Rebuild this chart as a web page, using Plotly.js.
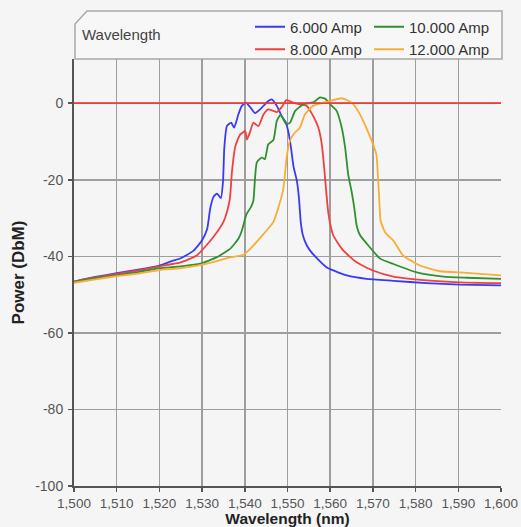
<!DOCTYPE html>
<html>
<head>
<meta charset="utf-8">
<script src="https://cdn.plot.ly/plotly-3.0.1.min.js"></script>
<style>
  html, body { margin: 0; padding: 0; background: #f5f5f5; }
  #chart { width: 521px; height: 527px; }
</style>
</head>
<body>
<div id="chart"></div>
<script>
// ---- data ----
const seriesNames = ["6.000 Amp", "8.000 Amp", "10.000 Amp", "12.000 Amp"];

const wl6 = [1500, 1505, 1510, 1515, 1520, 1523, 1525, 1528, 1530, 1531.2, 1531.9, 1532.7, 1533.5, 1534.4, 1534.9, 1535.2, 1535.8, 1536.8, 1537.5, 1538.5, 1539.3, 1540.3, 1541.3, 1542.4, 1543.6, 1545.1, 1546.3, 1547.5, 1548.6, 1549.6, 1550.3, 1550.8, 1551.4, 1552.2, 1552.7, 1553.1, 1553.6, 1554.5, 1555.3, 1556.8, 1559.2, 1561, 1563.9, 1568.5, 1574.8, 1582.6, 1590.4, 1600];
const pw6 = [-46.6, -45.4, -44.4, -43.5, -42.4, -41.2, -40.5, -38.5, -35.8, -32.8, -27.5, -24.4, -23.6, -24.8, -20.4, -11.7, -6.0, -5.1, -6.4, -2.9, -0.7, 0.1, -1.1, -2.6, -1.6, 0.2, 1.0, -0.7, -3.3, -5.0, -8.0, -11.5, -16.5, -20.3, -25.0, -31.0, -34.5, -37.1, -38.5, -40.4, -42.9, -43.8, -45.0, -45.9, -46.4, -47.0, -47.4, -47.6];

const wl8 = [1500, 1505, 1510, 1515, 1520, 1525, 1528.8, 1532.6, 1535, 1535.8, 1536.5, 1537, 1537.8, 1538.9, 1540.1, 1540.5, 1541.3, 1542, 1543.2, 1544.4, 1545.5, 1547.5, 1548.6, 1549.7, 1551, 1552.9, 1554.5, 1556, 1557.2, 1558, 1558.6, 1559.1, 1559.6, 1560.7, 1563, 1566.1, 1570, 1574.8, 1582.6, 1590.4, 1600];
const pw8 = [-46.6, -45.5, -44.6, -43.7, -42.6, -41.6, -39.7, -35.0, -31.0, -28.5, -25.0, -17.8, -11.2, -8.2, -7.3, -9.5, -7.3, -5.1, -6.0, -2.9, -1.6, -2.3, -1.1, 0.8, 0.3, -0.3, -0.7, -3.3, -6.3, -10.5, -17.0, -23.5, -29.0, -34.5, -38.4, -41.5, -43.7, -45.3, -46.3, -46.8, -47.0];

const wl10 = [1500, 1505, 1510, 1515, 1520, 1525, 1529.6, 1533.5, 1536.6, 1538.5, 1539.3, 1540.4, 1541.5, 1542, 1542.4, 1542.8, 1543.9, 1544.7, 1545.5, 1546.7, 1547.5, 1548.4, 1549.7, 1550.6, 1551.8, 1553.7, 1556, 1557.6, 1558.8, 1560, 1561.5, 1562.7, 1563.5, 1564.2, 1565, 1565.6, 1566.2, 1567, 1568.5, 1571.7, 1574.8, 1580.3, 1586.5, 1592, 1600];
const pw10 = [-46.7, -45.7, -44.9, -44.1, -43.1, -42.6, -41.9, -40.2, -38.0, -35.4, -33.3, -29.0, -27.0, -25.5, -19.5, -15.5, -14.2, -14.6, -10.7, -9.6, -4.6, -3.0, -5.5, -5.1, -2.0, -0.3, 0.2, 1.5, 1.2, -0.3, -2.0, -6.4, -11.6, -18.5, -23.0, -27.0, -32.0, -34.5, -36.6, -40.6, -42.0, -44.2, -45.3, -45.6, -45.9];

const wl12 = [1500, 1505, 1510, 1515, 1520, 1525, 1531.2, 1536.6, 1539.7, 1541.5, 1543.6, 1546.7, 1548.2, 1549, 1549.8, 1550.5, 1551.4, 1552.9, 1554.1, 1556, 1560, 1562.7, 1565, 1566.5, 1568.1, 1569.7, 1570.8, 1571.2, 1571.5, 1571.8, 1573, 1574.8, 1577.1, 1581, 1585.7, 1591.9, 1600];
const pw12 = [-46.9, -46.0, -45.2, -44.5, -43.6, -43.1, -41.9, -40.3, -39.6, -37.8, -35.2, -31.0, -26.0, -22.5, -14.2, -10.0, -8.1, -6.4, -2.9, -0.7, 0.6, 1.3, 0.2, -2.0, -5.5, -9.8, -13.3, -19.4, -25.5, -30.7, -34.0, -35.9, -39.8, -42.4, -43.9, -44.3, -45.0];

const referenceDbm = 0;          // red horizontal reference line
const xRange = [1500, 1600];
const yRange = [-100, 11.55];
const yTickValues = [-100, -80, -60, -40, -20, 0];
const yTickLabels = ["-100", "-80", "-60", "-40", "-20", "0"];

// ---- styling ----
const colors = ["#3a3af5", "#f04040", "#2f912f", "#f7ad36"];
const wls = [wl6, wl8, wl10, wl12];
const pws = [pw6, pw8, pw10, pw12];
const legendOf = ["legend", "legend", "legend2", "legend2"];

const traces = seriesNames.map((name, i) => ({
  type: "scatter",
  mode: "lines",
  name: name,
  x: wls[i],
  y: pws[i],
  line: { color: colors[i], width: 1.8, shape: "spline", smoothing: 0.5 },
  legend: legendOf[i],
  hoverinfo: "x+y+name"
}));

const W = 521, H = 527;
const mL = 74, mR = 20, mT = 58, mB = 41;
const pw = W - mL - mR, ph = H - mT - mB;
const px2paper = (px) => (px - mL) / pw;
const py2paper = (py) => (H - mB - py) / ph;

const fam = "Arial, 'Liberation Sans', sans-serif";
const legendFont = { family: fam, size: 15, color: "#333" };

const layout = {
  width: W, height: H,
  margin: { l: mL, r: mR, t: mT, b: mB, pad: 0 },
  paper_bgcolor: "#f5f5f5",
  plot_bgcolor: "#f5f5f5",
  font: { family: fam, size: 14, color: "#555" },
  showlegend: true,
  xaxis: {
    range: xRange,
    dtick: 10, tick0: 1500,
    tickformat: ",",
    showgrid: true, gridcolor: "#9e9e9e", gridwidth: 1.5,
    zeroline: false,
    showline: true, linecolor: "#555", linewidth: 2,
    ticks: "outside", ticklen: 4, tickcolor: "#555", tickwidth: 1.5,
    tickfont: { size: 13.5, color: "#555" },
    title: { text: "Wavelength (nm)", font: { size: 15.5, color: "#222", family: fam, weight: "bold" }, standoff: 4 },
    fixedrange: true
  },
  yaxis: {
    range: yRange,
    tickmode: "array", tickvals: yTickValues, ticktext: yTickLabels,
    showgrid: true, gridcolor: "#9e9e9e", gridwidth: 1.5,
    zeroline: false,
    showline: true, linecolor: "#555", linewidth: 2,
    ticks: "outside", ticklen: 4, tickcolor: "#555", tickwidth: 1.5,
    ticklabelstandoff: 2,
    tickfont: { size: 14, color: "#555" },
    title: { text: "Power (DbM)", font: { size: 17, color: "#222", family: fam, weight: "bold" }, standoff: 6 },
    fixedrange: true
  },
  legend: {
    x: px2paper(250), xanchor: "left",
    y: py2paper(10.5), yanchor: "top",
    orientation: "v",
    bgcolor: "rgba(0,0,0,0)", borderwidth: 0,
    font: legendFont, itemwidth: 30, tracegroupgap: 0
  },
  legend2: {
    x: px2paper(369), xanchor: "left",
    y: py2paper(10.5), yanchor: "top",
    orientation: "v",
    bgcolor: "rgba(0,0,0,0)", borderwidth: 0,
    font: legendFont, itemwidth: 30, tracegroupgap: 0
  },
  shapes: [
    {
      type: "path", xref: "paper", yref: "paper",
      path: "M " + px2paper(75) + "," + py2paper(58) +
            " L " + px2paper(75) + "," + py2paper(23) +
            " L " + px2paper(87) + "," + py2paper(10) +
            " L " + px2paper(502) + "," + py2paper(10) +
            " L " + px2paper(502) + "," + py2paper(58) + " Z",
      line: { color: "#a8a8a8", width: 1.5 },
      fillcolor: "#f7f7f7",
      layer: "below"
    },
    {
      type: "line", xref: "paper", yref: "y",
      x0: 0, x1: 1, y0: referenceDbm, y1: referenceDbm,
      line: { color: "#ff3535", width: 1.5 },
      layer: "above"
    }
  ],
  annotations: [
    {
      text: "Wavelength", xref: "paper", yref: "paper",
      x: px2paper(80), y: py2paper(33), xanchor: "left", yanchor: "middle",
      showarrow: false,
      font: { family: fam, size: 15, color: "#444" }
    }
  ]
};

Plotly.newPlot("chart", traces, layout, { staticPlot: true, displayModeBar: false });
</script>
</body>
</html>
